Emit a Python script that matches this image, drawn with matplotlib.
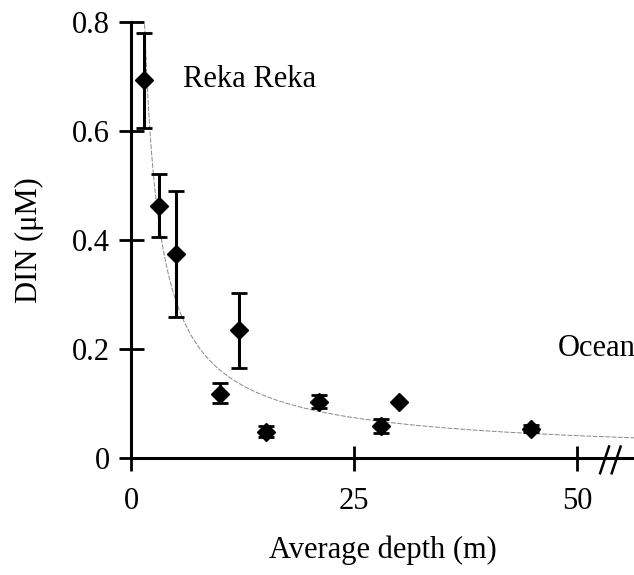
import numpy as np
import matplotlib
matplotlib.use("Agg")
import matplotlib.pyplot as plt

plt.rcParams["font.family"] = ["Liberation Serif", "DejaVu Serif"]

# data
depth = [1.5, 3.1, 5.1, 10.0, 12.1, 15.1, 21.1, 28.0, 30.0, 44.9]
din = [0.694, 0.463, 0.374, 0.117, 0.234, 0.048, 0.103, 0.059, 0.103, 0.054]
din_low = [0.606, 0.405, 0.258, 0.100, 0.166, 0.038, 0.092, 0.046, 0.103, 0.047]
din_high = [0.779, 0.521, 0.490, 0.138, 0.303, 0.058, 0.115, 0.072, 0.103, 0.061]

# power-law fit drawn in the figure: DIN = a * depth^b
fit_a = 1.14
fit_b = -0.85

x_ticks = [0, 25, 50]
y_ticks = [0, 0.2, 0.4, 0.6, 0.8]
y_ticklabels = ["0", "0.2", "0.4", "0.6", "0.8"]

fig = plt.figure(figsize=(6.34, 5.75), dpi=100)
ax = fig.add_axes([0.2066, 0.2035, 0.7934, 0.7582])

# fitted curve
xs = np.linspace(1.4, 56.4, 400)
ys = fit_a * xs ** fit_b
ax.plot(xs, ys, color="#888888", lw=0.7, ls=(0, (5, 1.5)), zorder=2, clip_on=True)

# points with error bars
y = np.array(din)
yerr = [y - np.array(din_low), np.array(din_high) - y]
ax.errorbar(depth, din, yerr=yerr, fmt="D", color="black", ms=9.5,
            ecolor="black", elinewidth=2.2, capsize=6, capthick=2,
            zorder=3, clip_on=False)

ax.set_xlim(0, 56.4)
ax.set_ylim(0, 0.8)

for side in ["top", "right"]:
    ax.spines[side].set_visible(False)
ax.spines["left"].set_linewidth(2.2)
ax.spines["bottom"].set_linewidth(2.2)

ax.set_xticks(x_ticks)
ax.set_yticks(y_ticks)
ax.set_yticklabels(y_ticklabels)
ax.tick_params(axis="both", direction="inout", length=18, width=2, labelsize=22)
ax.tick_params(axis="x", pad=12)
ax.tick_params(axis="y", pad=6)

ax.set_xlabel("Average depth (m)", fontsize=22, labelpad=14)
ax.set_ylabel("DIN (\u03bcM)", fontsize=22, labelpad=20)

ax.text(5.8, 0.694, "Reka Reka", fontsize=22, va="center", ha="left")
ax.text(47.8, 0.2, "Ocean", fontsize=22, va="center", ha="left")

# axis break marks
for x0 in [52.6, 53.9]:
    ax.plot([x0, x0 + 1.0], [-0.028, 0.021], color="black", lw=1.8, clip_on=False)

fig.savefig("out.png", dpi=100)
